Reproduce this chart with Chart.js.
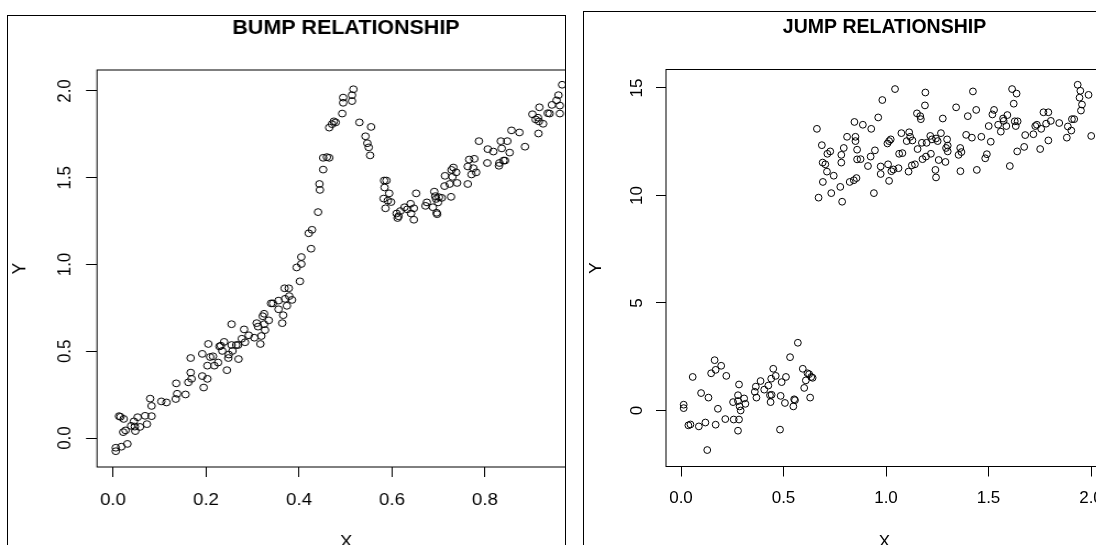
<!DOCTYPE html>
<html>
<head>
<meta charset="utf-8">
<script src="https://cdn.jsdelivr.net/npm/chart.js@4.4.0/dist/chart.umd.min.js"></script>
<style>
html,body{margin:0;padding:0;background:#fff;width:1096px;height:545px;overflow:hidden;position:relative;}
.panel{position:absolute;top:0;height:545px;overflow:hidden;}
#leftPanel{left:0;width:566px;}
#rightPanel{left:570px;width:526px;}
#leftInner{position:absolute;left:0;top:0;transform:scaleX(1.1);transform-origin:0 0;}
#rightInner{position:absolute;left:0;top:0;}
.frame{position:absolute;border:1px solid #000;box-sizing:border-box;}
</style>
</head>
<body>
<div id="leftPanel" class="panel"><div id="leftInner"><canvas id="c1" width="600" height="560"></canvas></div></div>
<div id="rightPanel" class="panel"><div id="rightInner"><canvas id="c2" width="600" height="560"></canvas></div></div>
<div class="frame" style="left:7px;top:15px;width:559px;height:600px;"></div>
<div class="frame" style="left:583px;top:11px;width:600px;height:600px;"></div>
<script>
// ---------------- DATA ----------------
const bumpTitle = "BUMP RELATIONSHIP";
const jumpTitle = "JUMP RELATIONSHIP";
const bumpXTicks = [0.0, 0.2, 0.4, 0.6, 0.8, 1.0];
const bumpYTicks = [0.0, 0.5, 1.0, 1.5, 2.0];
const jumpXTicks = [0.0, 0.5, 1.0, 1.5, 2.0];
const jumpYTicks = [0, 5, 10, 15];

// [x, y] pairs
const bumpPoints = [
[0.006,-0.076],[0.006,-0.056],[0.018,-0.050],[0.031,-0.034],[0.013,0.126],[0.016,0.122],[0.023,0.110],[0.022,0.034],[0.027,0.044],[0.039,0.070],[0.045,0.096],[0.047,0.066],[0.048,0.040],[0.053,0.120],[0.058,0.064],[0.069,0.128],[0.073,0.080],[0.080,0.227],[0.083,0.185],[0.083,0.126],[0.104,0.211],[0.115,0.205],
[0.135,0.225],[0.136,0.315],[0.138,0.255],[0.156,0.251],[0.162,0.321],[0.167,0.461],[0.167,0.377],[0.169,0.341],
[0.192,0.485],[0.192,0.357],[0.195,0.291],[0.203,0.341],[0.203,0.417],[0.205,0.542],[0.209,0.467],[0.215,0.471],[0.218,0.417],[0.226,0.435],
[0.229,0.528],[0.232,0.532],[0.235,0.502],[0.239,0.554],[0.245,0.391],[0.248,0.461],[0.249,0.481],[0.255,0.656],[0.255,0.536],[0.257,0.502],[0.265,0.536],[0.269,0.536],[0.270,0.455],[0.277,0.572],[0.282,0.626],[0.284,0.552],[0.292,0.592],
[0.304,0.578],[0.309,0.662],[0.312,0.642],[0.317,0.542],[0.319,0.588],[0.322,0.702],[0.325,0.716],[0.325,0.656],[0.327,0.622],[0.335,0.678],[0.340,0.776],[0.344,0.776],[0.356,0.792],[0.356,0.742],[0.364,0.662],[0.366,0.708],[0.369,0.863],[0.370,0.802],[0.374,0.762],[0.378,0.863],[0.379,0.818],[0.385,0.796],
[0.395,0.983],[0.402,0.903],[0.405,1.043],[0.405,1.003],[0.421,1.180],[0.426,1.091],[0.428,1.200],[0.441,1.302],[0.444,1.464],[0.445,1.430],[0.452,1.547],[0.452,1.615],[0.460,1.619],[0.465,1.615],[0.465,1.789],[0.471,1.809],[0.475,1.825],[0.479,1.819],
[0.493,1.870],[0.495,1.932],[0.495,1.962],[0.514,1.942],[0.514,1.976],[0.517,2.010],
[0.530,1.819],[0.543,1.739],[0.547,1.699],[0.550,1.675],[0.553,1.629],[0.555,1.793],
[0.583,1.484],[0.588,1.484],[0.584,1.444],[0.586,1.324],[0.582,1.380],[0.591,1.368],[0.594,1.410],[0.598,1.360],
[0.610,1.294],[0.612,1.268],[0.614,1.278],[0.618,1.308],[0.627,1.330],[0.633,1.318],[0.640,1.350],[0.641,1.294],[0.647,1.324],[0.647,1.258],[0.652,1.410],
[0.672,1.338],[0.675,1.358],[0.688,1.330],[0.691,1.420],[0.693,1.394],[0.695,1.378],[0.696,1.298],[0.697,1.290],[0.699,1.358],[0.701,1.388],[0.707,1.384],[0.713,1.452],[0.714,1.511],[0.724,1.464],[0.727,1.390],[0.728,1.545],[0.730,1.505],[0.732,1.559],[0.738,1.531],[0.740,1.470],
[0.763,1.464],[0.763,1.565],[0.766,1.605],[0.771,1.519],[0.775,1.555],[0.777,1.609],[0.781,1.531],[0.787,1.711],
[0.805,1.585],[0.806,1.665],[0.818,1.651],[0.830,1.569],[0.831,1.585],[0.834,1.711],[0.836,1.669],[0.840,1.599],[0.843,1.599],[0.848,1.711],[0.853,1.645],[0.857,1.773],[0.874,1.761],[0.886,1.679],
[0.902,1.866],[0.909,1.836],[0.914,1.846],[0.916,1.825],[0.915,1.755],[0.917,1.906],[0.925,1.811],[0.935,1.872],[0.939,1.870],[0.944,1.920],[0.954,1.946],[0.958,1.976],[0.961,1.916],[0.961,1.870],[0.966,2.036]
];

const jumpPoints = [
[0.013,0.27],[0.013,0.11],[0.036,-0.69],[0.046,-0.65],[0.057,1.56],[0.087,-0.74],[0.098,0.81],[0.119,-0.56],[0.128,-1.84],[0.134,0.60],[0.147,1.73],[0.164,2.34],[0.169,-0.66],[0.169,1.89],[0.180,0.08],[0.196,2.08],[0.216,-0.40],[0.221,1.61],[0.254,0.39],[0.257,-0.42],[0.278,-0.94],[0.278,0.71],[0.278,0.44],[0.283,1.21],[0.283,-0.42],[0.286,0.19],[0.291,0.00],[0.308,0.56],[0.314,0.31],[0.360,0.87],[0.365,1.11],[0.368,0.60],[0.388,1.37],[0.406,0.97],[0.426,1.16],[0.434,0.71],[0.437,0.39],[0.440,1.48],[0.442,0.73],[0.450,1.94],[0.462,1.61],[0.483,-0.89],[0.486,0.68],[0.491,1.32],[0.507,0.35],[0.512,1.56],[0.532,2.48],[0.548,0.19],[0.552,0.52],[0.556,0.48],[0.570,3.15],[0.594,1.94],[0.601,1.05],[0.609,1.40],[0.617,1.73],[0.625,1.69],[0.630,0.60],[0.635,1.56],[0.642,1.52],
[0.663,13.10],[0.671,9.90],[0.687,12.34],[0.691,11.53],[0.692,10.63],[0.704,11.45],[0.712,11.11],[0.714,11.94],[0.728,12.05],[0.733,10.11],[0.745,10.92],[0.777,10.40],[0.782,11.89],[0.782,11.53],[0.786,9.71],[0.794,12.21],[0.810,12.73],[0.823,10.63],[0.843,10.71],[0.846,13.42],[0.851,12.73],[0.851,12.53],[0.856,10.81],[0.859,12.13],[0.859,11.68],[0.876,11.69],[0.887,13.29],[0.912,11.37],[0.925,11.81],[0.928,13.10],[0.941,10.11],[0.946,12.10],[0.962,13.63],[0.974,11.00],[0.974,11.35],[0.982,14.44],
[1.007,12.42],[1.010,11.45],[1.015,10.68],[1.015,12.53],[1.023,12.61],[1.026,11.13],[1.036,11.21],[1.044,14.95],[1.061,11.27],[1.064,11.94],[1.075,12.90],[1.080,11.97],[1.101,12.53],[1.110,11.11],[1.113,12.94],[1.118,12.73],[1.126,11.40],[1.129,12.56],[1.141,11.45],[1.151,13.82],[1.154,12.16],[1.167,13.69],[1.170,13.55],[1.175,12.45],[1.178,11.69],[1.190,14.19],[1.192,14.79],[1.195,11.81],[1.198,12.45],[1.216,12.77],[1.219,11.94],[1.224,12.61],[1.241,11.19],[1.244,10.84],[1.244,12.65],[1.252,12.53],[1.257,11.65],[1.268,12.90],[1.277,13.58],[1.290,11.56],[1.293,12.21],[1.298,12.61],[1.301,12.05],[1.301,12.32],
[1.342,14.10],[1.354,11.89],[1.362,12.21],[1.363,11.13],[1.368,12.02],[1.391,12.82],[1.399,13.69],[1.419,12.69],[1.424,14.84],[1.440,13.98],[1.443,11.19],[1.465,12.73],[1.484,11.73],[1.492,11.92],[1.501,13.23],[1.511,12.50],[1.519,13.77],[1.527,13.98],[1.547,13.29],[1.560,12.97],[1.571,13.58],[1.574,13.47],[1.587,13.23],[1.592,13.74],[1.604,11.37],[1.615,14.95],[1.623,14.27],[1.628,13.45],[1.633,13.23],[1.637,14.74],[1.640,12.05],[1.642,13.45],[1.674,12.26],[1.679,12.81],
[1.719,12.85],[1.728,13.23],[1.736,13.29],[1.752,12.16],[1.757,13.10],[1.768,13.87],[1.781,13.34],[1.792,13.87],[1.792,12.56],[1.804,13.47],[1.845,13.37],[1.882,12.69],[1.887,13.21],[1.904,13.02],[1.907,13.55],[1.918,13.55],[1.935,15.15],[1.944,14.55],[1.948,14.87],[1.951,13.95],[1.956,14.23],[1.988,14.68],[2.001,12.77]
];

// ---------------- CHARTS ----------------
const FONT = '"Liberation Sans", Arial, Helvetica, sans-serif';
Chart.defaults.font.family = FONT;
Chart.defaults.color = '#000';

const plotBox = {
  id: 'plotBox',
  afterDatasetsDraw(chart) {
    const {ctx, chartArea: a} = chart;
    ctx.save();
    ctx.strokeStyle = '#000';
    ctx.lineWidth = 1;
    ctx.strokeRect(a.left, a.top, a.right - a.left, a.bottom - a.top);
    ctx.restore();
  }
};

function makeScatter(canvas, o) {
  const tickGrid = {display: true, drawOnChartArea: false, drawTicks: true, tickLength: 10, color: '#000', lineWidth: 1};
  return new Chart(canvas, {
    type: 'scatter',
    data: {datasets: [{
      data: o.points.map(p => ({x: p[0], y: p[1]})),
      pointStyle: 'circle', pointRadius: 3.4, pointHoverRadius: 3.4, pointBorderWidth: 1,
      pointBorderColor: '#000', pointBackgroundColor: 'rgba(0,0,0,0)', showLine: false
    }]},
    options: {
      responsive: false, animation: false, devicePixelRatio: 1, events: [],
      layout: {padding: {left: 0, top: 0, right: o.padRight, bottom: 0}},
      plugins: {
        legend: {display: false}, tooltip: {enabled: false},
        title: {display: true, text: o.title, fullSize: false, color: '#000',
          font: {family: FONT, size: 19.5, weight: 'bold'}, padding: o.titlePad}
      },
      scales: {
        x: {
          type: 'linear', position: 'bottom', min: o.xRange[0], max: o.xRange[1],
          afterBuildTicks: s => { s.ticks = o.xTicks.map(v => ({value: v})); },
          afterFit: s => { s.height = o.xHeight; },
          grid: tickGrid, border: {display: false},
          ticks: {padding: o.xTickPad, autoSkip: false, maxRotation: 0, minRotation: 0, color: '#000',
            font: {family: FONT, size: 17}, callback: o.xFmt},
          title: {display: true, text: 'X', color: '#000', font: {family: FONT, size: 17}, padding: {top: 0, bottom: 7.8}}
        },
        y: {
          type: 'linear', position: 'left', min: o.yRange[0], max: o.yRange[1],
          afterBuildTicks: s => { s.ticks = o.yTicks.map(v => ({value: v})); },
          afterFit: s => { s.width = o.yWidth; },
          grid: tickGrid, border: {display: false},
          ticks: {padding: o.yTickPad, crossAlign: 'center', autoSkip: false, minRotation: 90, maxRotation: 90,
            color: '#000', font: {family: FONT, size: 17}, callback: o.yFmt},
          title: {display: true, text: 'Y', color: '#000', font: {family: FONT, size: 17}, padding: {top: o.yTitlePad, bottom: 0}}
        }
      }
    },
    plugins: [plotBox]
  });
}

makeScatter(document.getElementById('c1'), {
  points: bumpPoints, title: bumpTitle,
  xTicks: bumpXTicks, yTicks: bumpYTicks,
  xRange: [-0.0343, 1.0366], yRange: [-0.167, 2.121],
  padRight: 59.1, titlePad: {top: 17.3, bottom: 29.3},
  xHeight: 93, yWidth: 88.2, xTickPad: 12.8, yTickPad: 7.3, yTitlePad: 7.7,
  xFmt: v => Number(v).toFixed(1), yFmt: v => Number(v).toFixed(1)
});

makeScatter(document.getElementById('c2'), {
  points: jumpPoints, title: jumpTitle,
  xTicks: jumpXTicks, yTicks: jumpYTicks,
  xRange: [-0.0732, 2.0585], yRange: [-2.605, 15.86],
  padRight: 67, titlePad: {top: 16.3, bottom: 29.8},
  xHeight: 93.5, yWidth: 96, xTickPad: 11.3, yTickPad: 9.55, yTitlePad: 16.6,
  xFmt: v => Number(v).toFixed(1), yFmt: v => String(v)
});
</script>
</body>
</html>
